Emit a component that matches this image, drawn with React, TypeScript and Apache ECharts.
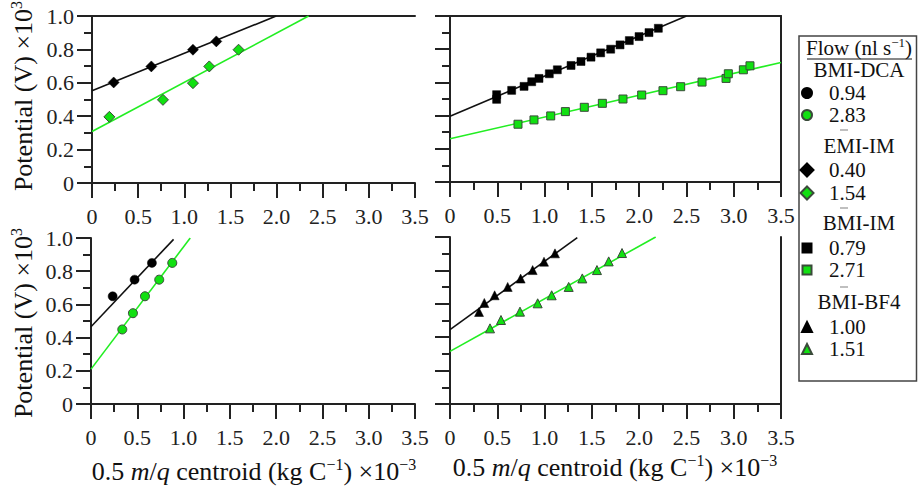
import React, { useEffect, useRef } from "react";
import * as echarts from "echarts";

// ---- data (x: 0.5 m/q centroid ×10^-3, y: potential ×10^3) ----
// EMI-IM (top-left)
const emiLowPts: number[][] = [[0.235, 0.602], [0.643, 0.698], [1.094, 0.798], [1.347, 0.848]];
const emiHighPts: number[][] = [[0.188, 0.396], [0.769, 0.498], [1.094, 0.598], [1.271, 0.698], [1.588, 0.798]];
const emiLowFit: number[][] = [[0, 0.552], [1.996, 1.0]];
const emiHighFit: number[][] = [[0, 0.308], [2.347, 1.0]];
// BMI-IM (top-right)
const imLowPts: number[][] = [
  [0.493, 0.526], [0.493, 0.498], [0.652, 0.552], [0.783, 0.576], [0.864, 0.604], [0.941, 0.624],
  [1.05, 0.652], [1.135, 0.676], [1.28, 0.702], [1.385, 0.726], [1.491, 0.752], [1.593, 0.778],
  [1.699, 0.8], [1.798, 0.826], [1.896, 0.852], [1.999, 0.876], [2.104, 0.9], [2.203, 0.926],
];
const imHighPts: number[][] = [
  [0.719, 0.348], [0.888, 0.374], [1.065, 0.398], [1.22, 0.424], [1.42, 0.45], [1.611, 0.474],
  [1.829, 0.5], [2.027, 0.524], [2.252, 0.55], [2.439, 0.574], [2.665, 0.602], [2.919, 0.624],
  [2.943, 0.652], [3.102, 0.676], [3.172, 0.7],
];
const imLowFit: number[][] = [[0, 0.396], [2.5, 1.0]];
const imHighFit: number[][] = [[0, 0.26], [3.5, 0.72]];
// BMI-DCA (bottom-left)
const dcaLowPts: number[][] = [[0.234, 0.649], [0.471, 0.749], [0.658, 0.85]];
const dcaHighPts: number[][] = [[0.338, 0.449], [0.453, 0.547], [0.583, 0.649], [0.737, 0.749], [0.878, 0.85]];
const dcaLowFit: number[][] = [[0, 0.465], [0.892, 0.992]];
const dcaHighFit: number[][] = [[0, 0.21], [1.072, 1.0]];
// BMI-BF4 (bottom-right)
const bf4LowPts: number[][] = [
  [0.307, 0.551], [0.363, 0.605], [0.472, 0.651], [0.61, 0.701], [0.747, 0.751], [0.874, 0.802],
  [0.994, 0.852], [1.11, 0.902],
];
const bf4HighPts: number[][] = [
  [0.423, 0.453], [0.539, 0.503], [0.74, 0.553], [0.927, 0.603], [1.075, 0.651], [1.255, 0.701],
  [1.399, 0.752], [1.554, 0.802], [1.678, 0.854], [1.819, 0.904],
];
const bf4LowFit: number[][] = [[0, 0.445], [1.346, 0.996]];
const bf4HighFit: number[][] = [[0, 0.315], [2.175, 1.0]];

const flowNames = ["0.94", "2.83", "0.40", "1.54", "0.79", "2.71", "1.00", "1.51"];
const groupNames = ["BMI-DCA", "EMI-IM", "BMI-IM", "BMI-BF4"];

const FONT = "'Liberation Serif', 'Times New Roman', Times, serif";
const AX = "#222";
const GREEN = "#22ee22";
const GREEN_FILL = "#11e011";

export default function App() {
  const ref = useRef<HTMLDivElement>(null);
  useEffect(() => {
    if (!ref.current) return;
    const chart = echarts.init(ref.current, null, { renderer: "svg" });
    const grids = [
      { left: 92, top: 16, width: 323, height: 167 },
      { left: 450, top: 16, width: 331, height: 166 },
      { left: 91, top: 238, width: 324, height: 166 },
      { left: 450, top: 237, width: 331, height: 167 },
    ];
    const fmt = (v: number) => (v === 0 ? "0" : v.toFixed(1));
    const lineStyle = { color: AX, width: 2 };
    const xAxes: any[] = grids.map((_, i) => ({
      gridIndex: i, type: "value", min: 0, max: 3.5, interval: 0.5,
      axisLine: { show: true, onZero: false, lineStyle },
      axisTick: { show: true, length: 15, lineStyle },
      minorTick: { show: true, splitNumber: 2, length: 8, lineStyle },
      splitLine: { show: false }, minorSplitLine: { show: false },
      axisLabel: { margin: 22, fontSize: 22, fontFamily: FONT, color: AX, formatter: fmt },
    }));
    const yAxes: any[] = grids.map((_, i) => ({
      gridIndex: i, type: "value", min: 0, max: 1, interval: 0.2,
      axisLine: { show: true, onZero: false, lineStyle },
      axisTick: { show: true, length: 15, lineStyle },
      minorTick: { show: true, splitNumber: 2, length: 8, lineStyle },
      splitLine: { show: false }, minorSplitLine: { show: false },
      axisLabel: { show: i % 2 === 0, margin: 18, fontSize: 22, fontFamily: FONT, color: AX, formatter: fmt },
    }));
    const frameX = (g: number) => ({
      gridIndex: g, type: "value", position: "top", min: 0, max: 3.5,
      axisLine: { show: true, onZero: false, lineStyle },
      axisTick: { show: false }, axisLabel: { show: false }, splitLine: { show: false },
    });
    const frameY = (g: number) => ({
      gridIndex: g, type: "value", position: "right", min: 0, max: 1,
      axisLine: { show: true, onZero: false, lineStyle },
      axisTick: { show: false }, axisLabel: { show: false }, splitLine: { show: false },
    });
    xAxes.push(frameX(0), frameX(1));
    yAxes.push(frameY(1), frameY(3));

    const fit = (name: string, data: number[][], g: number, color: string) => ({
      name, type: "line", xAxisIndex: g, yAxisIndex: g, data, showSymbol: false,
      lineStyle: { color, width: 1.6 }, itemStyle: { color }, silent: true, z: 1,
    });
    const pts = (name: string, data: number[][], g: number, symbol: string, size: number, green: boolean) => ({
      name, type: "scatter", xAxisIndex: g, yAxisIndex: g, data, symbol, symbolSize: size, z: 3,
      itemStyle: green
        ? { color: GREEN_FILL, borderColor: "#3a4a3a", borderWidth: 1, opacity: 1 }
        : { color: "#000", borderColor: "#000", borderWidth: 0.5, opacity: 1 },
    });

    const series = [
      fit("fit-emi-low", emiLowFit, 0, "#111"),
      fit("fit-emi-high", emiHighFit, 0, GREEN),
      fit("fit-im-low", imLowFit, 1, "#111"),
      fit("fit-im-high", imHighFit, 1, GREEN),
      fit("fit-dca-low", dcaLowFit, 2, "#111"),
      fit("fit-dca-high", dcaHighFit, 2, GREEN),
      fit("fit-bf4-low", bf4LowFit, 3, "#111"),
      fit("fit-bf4-high", bf4HighFit, 3, GREEN),
      pts(flowNames[0], dcaLowPts, 2, "circle", 9, false),
      pts(flowNames[1], dcaHighPts, 2, "circle", 9, true),
      pts(flowNames[2], emiLowPts, 0, "diamond", 11, false),
      pts(flowNames[3], emiHighPts, 0, "diamond", 11, true),
      pts(flowNames[4], imLowPts, 1, "rect", 8, false),
      pts(flowNames[5], imHighPts, 1, "rect", 8, true),
      pts(flowNames[6], bf4LowPts, 3, "triangle", 9, false),
      pts(flowNames[7], bf4HighPts, 3, "triangle", 9, true),
    ];

    const legendTops = [82, 159, 237, 316];
    const legendGaps = [0, 1, 0, 0];
    const legendSizes = [10, 13, 9, 10];
    const legends = legendTops.map((top, k) => {
      const s = legendSizes[k];
      return {
        orient: "vertical", left: 806 - s / 2, top, itemGap: legendGaps[k], padding: 0,
        itemWidth: s, itemHeight: s, selectedMode: false,
        data: [flowNames[2 * k], flowNames[2 * k + 1]],
        textStyle: { fontFamily: FONT, fontSize: 21, color: "#111", lineHeight: 22, padding: [0, 0, 0, 17 - s / 2] },
      };
    });

    const headY = [70, 146, 223, 302];
    const sepY = [130, 208, 287];
    const graphic: any[] = [
      { type: "rect", shape: { x: 799, y: 36, width: 117.5, height: 345 }, style: { fill: "none", stroke: "#444", lineWidth: 1.5 } },
      {
        type: "text", x: 859, y: 48,
        style: {
          text: "{a|Flow (nl s}{s|−1}{a|)}", align: "center", verticalAlign: "middle",
          rich: {
            a: { fontFamily: FONT, fontSize: 21, fill: "#111", lineHeight: 24 },
            s: { fontFamily: FONT, fontSize: 13, fill: "#111", verticalAlign: "top", lineHeight: 14 },
          },
        },
      },
      { type: "line", shape: { x1: 807, y1: 59, x2: 912, y2: 59 }, style: { stroke: "#111", lineWidth: 1 } },
      ...groupNames.map((g, k) => ({
        type: "text", x: 859, y: headY[k],
        style: { text: g, align: "center", verticalAlign: "middle", fontFamily: FONT, fontSize: 21, fill: "#111" },
      })),
      ...sepY.map((y) => ({ type: "line", shape: { x1: 840, y1: y, x2: 848, y2: y }, style: { stroke: "#aaa", lineWidth: 1.5 } })),
      ...[96, 323].map((cy) => ({
        type: "text", x: 23, y: cy, rotation: Math.PI / 2,
        style: {
          text: "{a|Potential (V) ×10}{s|3}", align: "center", verticalAlign: "middle",
          rich: {
            a: { fontFamily: FONT, fontSize: 26, fill: "#111", lineHeight: 30 },
            s: { fontFamily: FONT, fontSize: 16, fill: "#111", verticalAlign: "top", lineHeight: 16 },
          },
        },
      })),
      ...[[254, 471], [615, 467]].map(([cx, cy]) => ({
        type: "text", x: cx, y: cy,
        style: {
          text: "{a|0.5 }{i|m}{a|/}{i|q}{a| centroid (kg C}{s|−1}{a|) ×10}{s|−3}", align: "center", verticalAlign: "middle",
          rich: {
            a: { fontFamily: FONT, fontSize: 26, fill: "#111", lineHeight: 30 },
            i: { fontFamily: FONT, fontSize: 26, fill: "#111", fontStyle: "italic", lineHeight: 30 },
            s: { fontFamily: FONT, fontSize: 16, fill: "#111", verticalAlign: "top", lineHeight: 16 },
          },
        },
      })),
    ];

    chart.setOption({
      animation: false,
      backgroundColor: "#fff",
      grid: grids,
      xAxis: xAxes,
      yAxis: yAxes,
      legend: legends,
      series,
      graphic,
    });
    return () => chart.dispose();
  }, []);
  return <div ref={ref} style={{ width: 918, height: 492, position: "absolute", left: 0, top: 0 }} />;
}
